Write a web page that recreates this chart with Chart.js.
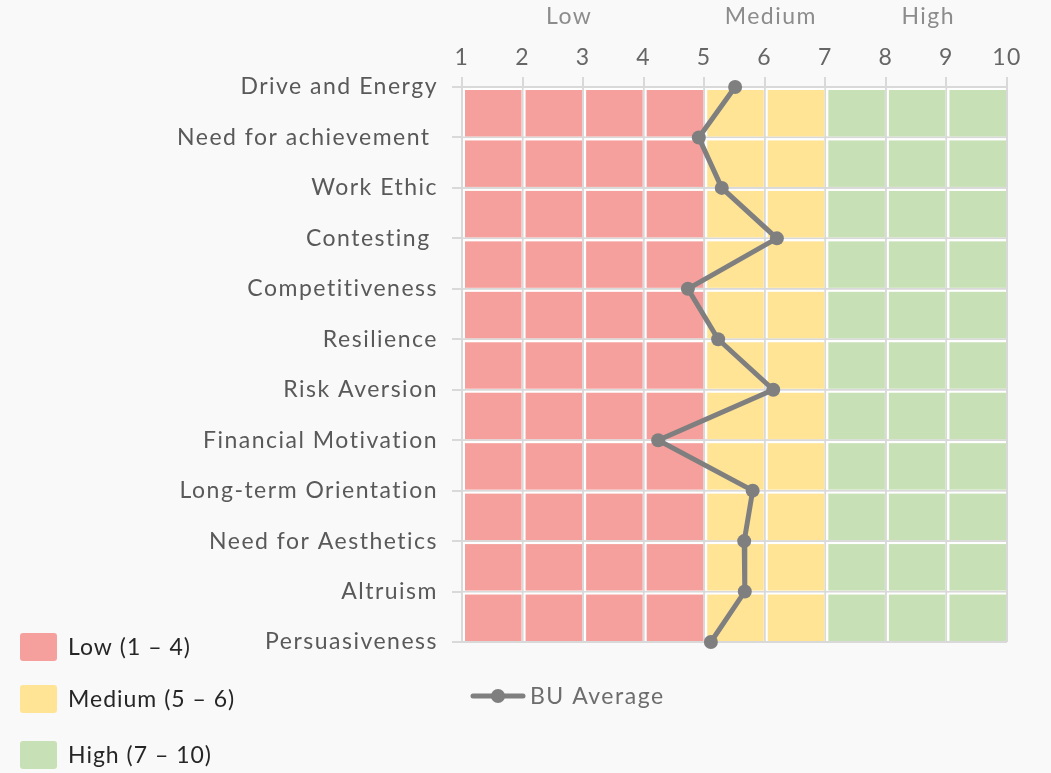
<!DOCTYPE html>
<html>
<head>
<meta charset="utf-8">
<script src="https://cdn.jsdelivr.net/npm/chart.js@4"></script>
<style>
  html,body{margin:0;padding:0;background:#f9f9f9;}
  #wrap{width:1051px;height:773px;position:relative;}
</style>
</head>
<body>
<div id="wrap"><canvas id="chart"></canvas></div>
<script>
/* ---------- data ---------- */
const categories = [
  'Drive and Energy','Need for achievement ','Work Ethic','Contesting ','Competitiveness',
  'Resilience','Risk Aversion','Financial Motivation','Long-term Orientation',
  'Need for Aesthetics','Altruism','Persuasiveness'
];
const buAverage = [5.51, 4.91, 5.29, 6.2, 4.73, 5.23, 6.14, 4.24, 5.8, 5.66, 5.67, 5.11];
const seriesName = 'BU Average';

const bandEdges  = [1, 5, 7, 10];
const bandNames  = ['Low', 'Medium', 'High'];
const bandLegend = ['Low (1 – 4)', 'Medium (5 – 6)', 'High (7 – 10)'];
const bandTitleAt = [2.77, 6.1, 8.7];   // where the Low/Medium/High headers sit on the x scale
const bandColors = ['#f6a09d', '#ffe496', '#c7e0b5'];

const FONT = 'Lato, "Open Sans", sans-serif';
const GRID = '#d9d9d9';
const LINE = '#7f7f7f';

function bandIndex(v){
  for(let i=0;i<bandNames.length;i++){ if(v>=bandEdges[i] && v<bandEdges[i+1]) return i; }
  return bandNames.length-1;
}

/* ---------- plugin: coloured cells, headers, legends ---------- */
const decor = {
  id:'decor',
  beforeDraw(chart){
    // wider tracking so Lato gets closer to the original geometric face
    chart.ctx.letterSpacing='1.5px';
  },
  beforeDatasetsDraw(chart){
    const {ctx, scales:{x, y}} = chart;
    ctx.save();
    for(let c=bandEdges[0]; c<bandEdges[bandEdges.length-1]; c++){
      const x0=x.getPixelForValue(c), x1=x.getPixelForValue(c+1);
      for(let r=0;r<categories.length-1;r++){
        const y0=y.getPixelForValue(r), y1=y.getPixelForValue(r+1);
        ctx.fillStyle='#ffffff';
        ctx.fillRect(x0+1, y0+1, x1-x0-2, y1-y0-2);
        ctx.fillStyle=bandColors[bandIndex(c)];
        ctx.fillRect(x0+3, y0+3, x1-x0-4, y1-y0-4);
      }
    }
    ctx.restore();
  },
  afterDraw(chart){
    const {ctx, scales:{x}} = chart;
    ctx.save();
    // band headers above the axis
    ctx.font = '23px '+FONT;
    ctx.fillStyle = '#8c8c8c';
    ctx.textAlign='center'; ctx.textBaseline='middle';
    bandNames.forEach((n,i)=>ctx.fillText(n, x.getPixelForValue(bandTitleAt[i]), 17));

    // band legend (left)
    const rows=[647, 699, 755];
    ctx.textAlign='left';
    ctx.letterSpacing='1px';
    bandLegend.forEach((t,i)=>{
      ctx.fillStyle=bandColors[i];
      ctx.beginPath();
      ctx.roundRect(20, rows[i]-14, 37, 28, 3);
      ctx.fill();
      ctx.fillStyle='#262626';
      ctx.fillText(t, 68, rows[i]+1);
    });

    // series legend
    const ly=696;
    ctx.strokeStyle=LINE; ctx.lineWidth=5; ctx.lineCap='round';
    ctx.beginPath(); ctx.moveTo(473,ly); ctx.lineTo(523,ly); ctx.stroke();
    ctx.fillStyle=LINE;
    ctx.beginPath(); ctx.arc(498,ly,7,0,Math.PI*2); ctx.fill();
    ctx.fillStyle='#6d6d6d';
    ctx.letterSpacing='1.5px';
    ctx.fillText(seriesName, 530, ly+1);
    ctx.restore();
  }
};

/* ---------- chart ---------- */
new Chart(document.getElementById('chart'),{
  type:'line',
  data:{
    labels:categories,
    datasets:[{
      label:seriesName,
      data:buAverage,
      borderColor:LINE, borderWidth:5,
      pointRadius:7, pointHoverRadius:7,
      pointBackgroundColor:LINE, pointBorderWidth:0,
      tension:0, clip:false
    }]
  },
  options:{
    indexAxis:'y',
    responsive:true, maintainAspectRatio:false, animation:false,
    layout:{padding:{top:0,left:0,right:44,bottom:131}},
    plugins:{legend:{display:false}, tooltip:{enabled:false}},
    scales:{
      x:{
        type:'linear', position:'top', min:1, max:10,
        ticks:{stepSize:1, color:'#666666', font:{family:FONT,size:23}, padding:6},
        grid:{color:GRID, lineWidth:2, tickLength:10},
        border:{color:GRID, width:2},
        afterFit(s){ s.height=87; }
      },
      y:{
        type:'category', offset:false,
        ticks:{color:'#595959', font:{family:FONT,size:23}, padding:14, autoSkip:false},
        grid:{color:GRID, lineWidth:2, tickLength:10},
        border:{color:GRID, width:2},
        afterFit(s){ s.width=462; }
      }
    }
  },
  plugins:[decor]
});
</script>
</body>
</html>
